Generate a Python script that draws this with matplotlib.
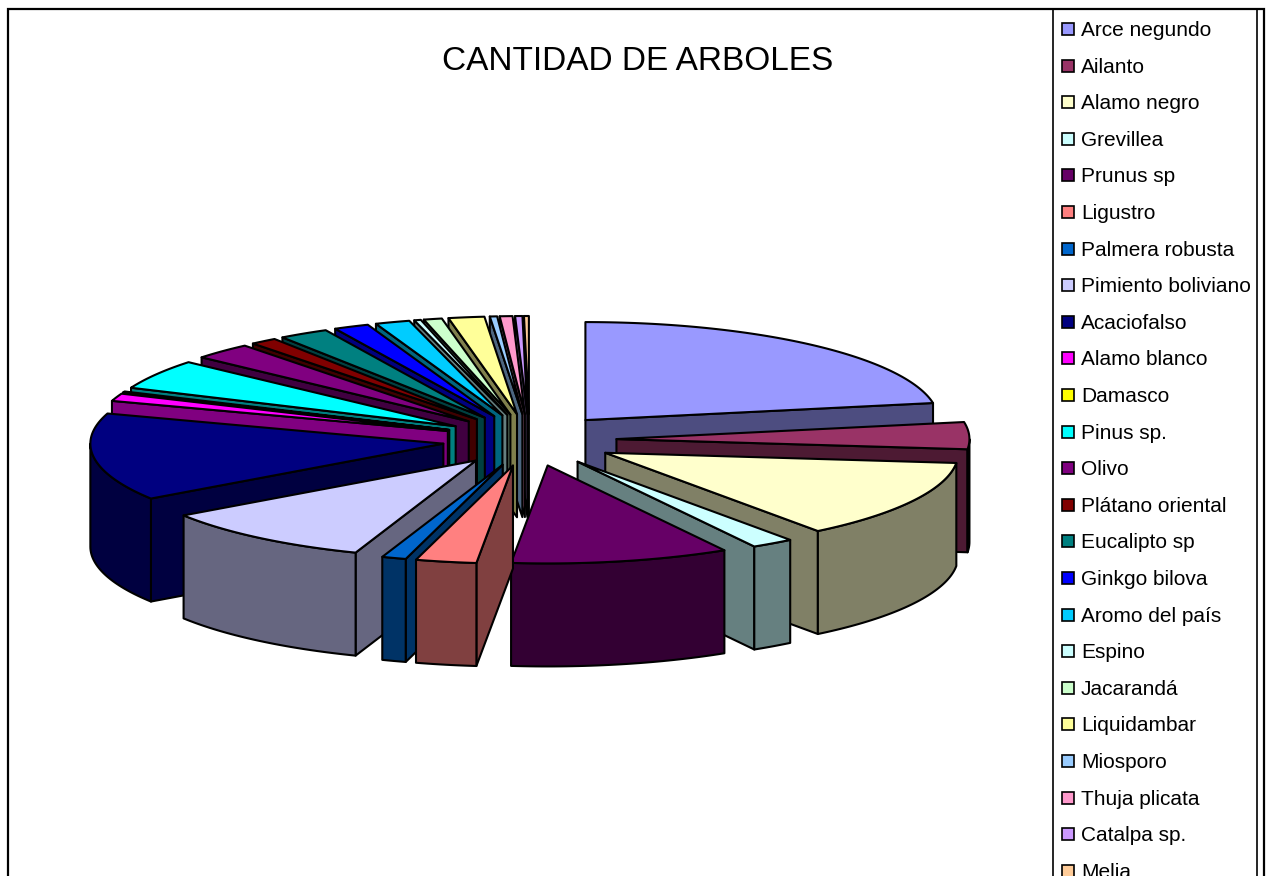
import matplotlib
matplotlib.use('Agg')
import matplotlib.pyplot as plt
from matplotlib.colors import to_rgb
from matplotlib.patches import Polygon, Rectangle
import numpy as np

# Chart data (size of each slice)
especies = ['Arce negundo', 'Ailanto', 'Alamo negro', 'Grevillea', 'Prunus sp', 'Ligustro',
            'Palmera robusta', 'Pimiento boliviano', 'Acaciofalso', 'Alamo blanco', 'Damasco',
            'Pinus sp.', 'Olivo', 'Plátano oriental', 'Eucalipto sp', 'Ginkgo bilova',
            'Aromo del país', 'Espino', 'Jacarandá', 'Liquidambar', 'Miosporo', 'Thuja plicata',
            'Catalpa sp.', 'Melia']
cantidad = [80, 16, 47, 7, 36, 10, 4, 36, 52, 4.5, 0.7, 17.7, 9.8, 4.4, 8.2, 5.8, 5.7, 1.1, 3.0,
            5.9, 1.2, 2.1, 1.2, 0.8]
colores = ['#9999FF', '#993366', '#FFFFCC', '#CCFFFF', '#660066', '#FF8080', '#0066CC', '#CCCCFF',
           '#000080', '#FF00FF', '#FFFF00', '#00FFFF', '#800080', '#800000', '#008080', '#0000FF',
           '#00CCFF', '#CCFFFF', '#CCFFCC', '#FFFF99', '#99CCFF', '#FF99CC', '#CC99FF', '#FFCC99']
titulo = 'CANTIDAD DE ARBOLES'

# Pie geometry in pixels
cx, cy = 529.5, 440
rx, ry = 353, 98
ex, ey = 87, 26  # explosion
alto = 103
lw = 1.5

plt.rcParams['font.family'] = ['Liberation Sans', 'DejaVu Sans']
fig = plt.figure(figsize=(12.69, 8.76), dpi=100)
ax = fig.add_axes([0, 0, 1, 1])
ax.set_xlim(0, 1269)
ax.set_ylim(876, 0)
ax.axis('off')


def arco(x0, y0, a0, a1):
    """Points of the top edge between two angles (degrees, clockwise from 12 o'clock)."""
    n = max(2, int(abs(a1 - a0)) + 2)
    t = np.radians(np.linspace(a0, a1, n))
    return np.column_stack([x0 + rx * np.sin(t), y0 - ry * np.cos(t)])


def cara(puntos, color):
    ax.add_patch(Polygon(puntos, closed=True, facecolor=color, edgecolor='black',
                         linewidth=lw, joinstyle='round', zorder=2))


fracciones = np.array(cantidad) / sum(cantidad) * 360
fin = np.cumsum(fracciones)
inicio = fin - fracciones
medio = (inicio + fin) / 2

# Painter's order: back slices first
for i in np.argsort(-np.cos(np.radians(medio))):
    a0, a1 = inicio[i], fin[i]
    m = np.radians(medio[i])
    x0 = cx + ex * np.sin(m)
    y0 = cy - ey * np.cos(m)
    color = colores[i]
    oscuro = tuple(c * 0.5 for c in to_rgb(color))
    abajo = np.array([0, alto])

    # Cut faces looking at the viewer
    if np.sin(np.radians(a1)) > 0:
        p = arco(x0, y0, a1, a1)[0]
        cara([(x0, y0), p, p + abajo, (x0, y0 + alto)], oscuro)
    if np.sin(np.radians(a0)) < 0:
        p = arco(x0, y0, a0, a0)[0]
        cara([(x0, y0), p, p + abajo, (x0, y0 + alto)], oscuro)

    # Outer wall, only the front half of the ellipse shows
    w0, w1 = max(a0, 90), min(a1, 270)
    if w1 > w0:
        borde = arco(x0, y0, w0, w1)
        cara(np.vstack([borde, borde[::-1] + abajo]), oscuro)

    # Top face
    cara(np.vstack([[(x0, y0)], arco(x0, y0, a0, a1)]), color)

ax.text(638, 62, titulo, fontsize=24, ha='center', va='center', color='black')

# Chart frame, runs off the bottom of the picture
ax.plot([8, 8, 1264, 1264], [880, 9, 9, 880], color='black', lw=1.6, solid_joinstyle='miter', zorder=3)

# Legend box and entries
ax.plot([1053, 1053], [9, 880], color='black', lw=1.2, zorder=3)
ax.plot([1257, 1257], [9, 880], color='black', lw=1.2, zorder=3)
for i, (nombre, color) in enumerate(zip(especies, colores)):
    y = 29 + i * 36.6
    ax.add_patch(Rectangle((1062, y - 6), 12, 12, facecolor=color, edgecolor='black', linewidth=1.2, zorder=3))
    ax.text(1081, y + 1.5, nombre, fontsize=15, ha='left', va='center', color='black', zorder=3)

fig.savefig('out.png', dpi=100)
